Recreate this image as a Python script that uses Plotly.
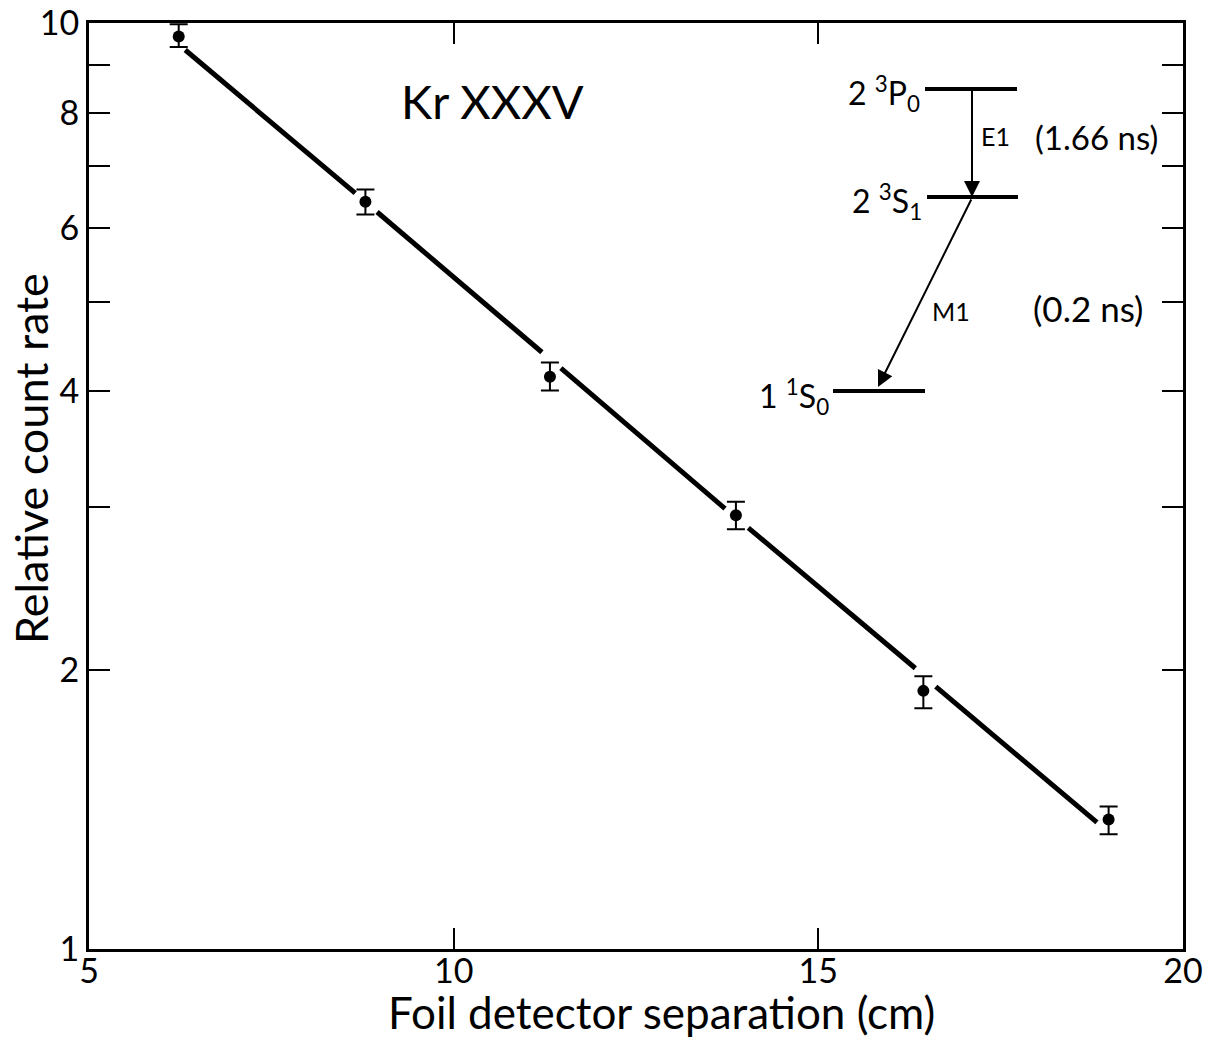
import plotly.graph_objects as go

# ---- data ----
sep_cm = [6.23, 8.79, 11.32, 13.87, 16.44, 18.98]
count_rate = [9.67, 6.41, 4.15, 2.94, 1.90, 1.38]
err_plus = [0.30, 0.20, 0.15, 0.10, 0.07, 0.045]
err_minus = [0.25, 0.20, 0.14, 0.10, 0.08, 0.05]

# fitted line, drawn in broken segments (gaps around the points)
fit_x = [6.32, 8.65, None, 8.95, 11.21, None, 11.47, 13.72, None, 14.04, 16.33, None, 16.61, 18.82]
fit_y = [9.35, 6.55, None, 6.25, 4.41, None, 4.24, 2.99, None, 2.85, 2.01, None, 1.92, 1.37]

y_tickvals = [1, 2, 3, 4, 5, 6, 7, 8, 9, 10]
y_ticktext = ["1", "2", "", "4", "", "6", "", "8", "", "10"]
x_tickvals = [5, 10, 15, 20]
x_ticktext = ["5", "10", "15", "20"]

x_title = "Foil detector separation (cm)"
y_title = "Relative count rate"

FONT = "Lato"
W, H = 1206, 1041
L, R, T, B = 89, 1183, 23, 949


def px(xp):
    return (xp - L) / (R - L)


def py(yp):
    return (B - yp) / (B - T)


fig = go.Figure()

fig.add_trace(go.Scatter(
    x=fit_x, y=fit_y, mode="lines",
    line=dict(color="black", width=5),
    connectgaps=False, showlegend=False, hoverinfo="skip",
))

fig.add_trace(go.Scatter(
    x=sep_cm, y=count_rate, mode="markers",
    marker=dict(color="black", size=12),
    error_y=dict(type="data", symmetric=False, array=err_plus, arrayminus=err_minus,
                 color="black", thickness=2, width=9),
    showlegend=False,
))

axis_common = dict(
    showgrid=False, zeroline=False, showline=True, linecolor="black", linewidth=3,
    ticks="inside", ticklen=21, tickwidth=2, tickcolor="black", mirror="ticks",
    tickfont=dict(family=FONT, size=34, color="black"), automargin=False,
)

fig.update_xaxes(
    range=[5, 20], tickmode="array", tickvals=x_tickvals, ticktext=x_ticktext,
    ticklabelstandoff=-10,
    **axis_common,
)
fig.update_yaxes(
    type="log", range=[0, 1], tickmode="array", tickvals=y_tickvals, ticktext=y_ticktext,
    **axis_common,
)

shapes = []
# energy level lines
for (x0, x1, yv) in [(925, 1017, 89), (927, 1018, 197), (833, 925, 391)]:
    shapes.append(dict(type="line", xref="paper", yref="paper",
                       x0=px(x0), x1=px(x1), y0=py(yv), y1=py(yv),
                       line=dict(color="black", width=4)))

annotations = [
    dict(text=x_title, x=px(661), y=py(1012), xref="paper", yref="paper",
         showarrow=False, font=dict(family=FONT, size=44, color="black"),
         xanchor="center", yanchor="middle"),
    dict(text=y_title, x=px(31), y=py(459), xref="paper", yref="paper",
         showarrow=False, textangle=-90, font=dict(family=FONT, size=45, color="black"),
         xanchor="center", yanchor="middle"),
    dict(text="Kr XXXV", x=px(492), y=py(101), xref="paper", yref="paper",
         showarrow=False, font=dict(family=FONT, size=47, color="black"),
         xanchor="center", yanchor="middle"),
    dict(text="2 <sup>3</sup>P<sub>0</sub>", x=px(922), y=py(94), xref="paper", yref="paper",
         showarrow=False, font=dict(family=FONT, size=32, color="black"),
         xanchor="right", yanchor="middle"),
    dict(text="2 <sup>3</sup>S<sub>1</sub>", x=px(924), y=py(202), xref="paper", yref="paper",
         showarrow=False, font=dict(family=FONT, size=32, color="black"),
         xanchor="right", yanchor="middle"),
    dict(text="1 <sup>1</sup>S<sub>0</sub>", x=px(831), y=py(396), xref="paper", yref="paper",
         showarrow=False, font=dict(family=FONT, size=32, color="black"),
         xanchor="right", yanchor="middle"),
    dict(text="E1", x=px(979), y=py(136), xref="paper", yref="paper",
         showarrow=False, font=dict(family=FONT, size=25, color="black"),
         xanchor="left", yanchor="middle"),
    dict(text="(1.66 ns)", x=px(1096), y=py(137), xref="paper", yref="paper",
         showarrow=False, font=dict(family=FONT, size=33, color="black"),
         xanchor="center", yanchor="middle"),
    dict(text="M1", x=px(951), y=py(311), xref="paper", yref="paper",
         showarrow=False, font=dict(family=FONT, size=25, color="black"),
         xanchor="center", yanchor="middle"),
    dict(text="(0.2 ns)", x=px(1088), y=py(308), xref="paper", yref="paper",
         showarrow=False, font=dict(family=FONT, size=35, color="black"),
         xanchor="center", yanchor="middle"),
    # arrows
    dict(text="", x=px(972), y=py(197), xref="paper", yref="paper",
         showarrow=True, ax=0, ay=-108, arrowhead=2, arrowsize=1.6, arrowwidth=2,
         arrowcolor="black", standoff=0),
    dict(text="", x=px(878), y=py(387), xref="paper", yref="paper",
         showarrow=True, ax=94, ay=-189, arrowhead=2, arrowsize=1.6, arrowwidth=2,
         arrowcolor="black", standoff=0),
]

fig.update_layout(
    width=W, height=H,
    margin=dict(l=L, r=W - R, t=T, b=H - B, autoexpand=False),
    paper_bgcolor="white", plot_bgcolor="white",
    shapes=shapes, annotations=annotations,
    font=dict(family=FONT, color="black"),
)

fig.write_html("out.html")
